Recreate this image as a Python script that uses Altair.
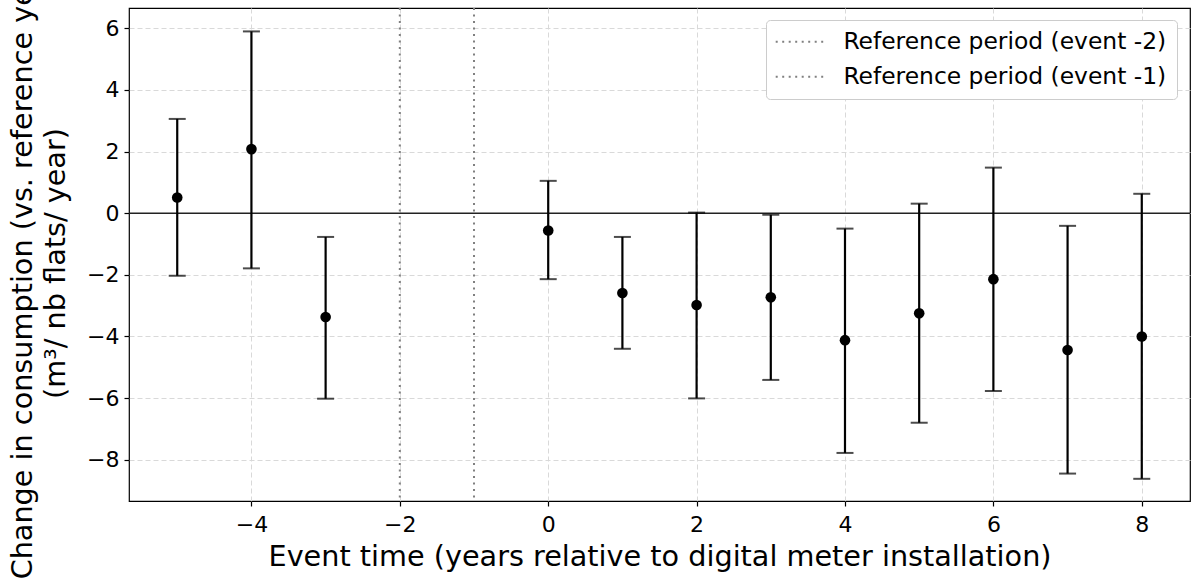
import altair as alt
import pandas as pd

# ---- data ----
event = [-5, -4, -3, 0, 1, 2, 3, 4, 5, 6, 7, 8]
coef = [0.51, 2.08, -3.37, -0.56, -2.59, -2.98, -2.73, -4.12, -3.25, -2.14, -4.44, -4.00]
lower = [-2.03, -1.79, -6.02, -2.14, -4.40, -6.01, -5.41, -7.78, -6.80, -5.77, -8.45, -8.62]
upper = [3.06, 5.90, -0.77, 1.05, -0.77, 0.02, -0.05, -0.50, 0.31, 1.48, -0.41, 0.63]

ref_x = [-2, -1]
ref_labels = ["Reference period (event -2)", "Reference period (event -1)"]

x_ticks = [-4, -2, 0, 2, 4, 6, 8]
y_ticks = [-8, -6, -4, -2, 0, 2, 4, 6]

x_title = "Event time (years relative to digital meter installation)"
y_title = ["Change in consumption (vs. reference year)", "(m³/ nb flats/ year)"]

df = pd.DataFrame({"event": event, "coef": coef, "lower": lower, "upper": upper})
ref_df = pd.DataFrame({"x": ref_x, "label": ref_labels})
zero_df = pd.DataFrame({"y": [0]})

FONT = "DejaVu Sans"
xscale = alt.Scale(domain=[-5.65, 8.65], nice=False, zero=False)
yscale = alt.Scale(domain=[-9.34, 6.66], nice=False, zero=False)
minus = "replace(datum.label, '-', '\u2212')"

xaxis = alt.Axis(values=x_ticks, format="d", title=x_title, labelExpr=minus, labelPadding=8,
                 titleY=64, titleBaseline="alphabetic")
yaxis = alt.Axis(values=y_ticks, format="d", title=y_title, labelExpr=minus, labelPadding=5,
                 titleX=-107, titleY=255, titleBaseline="middle", titleLineHeight=33)

ref = alt.Chart(ref_df).mark_rule(strokeDash=[2, 4.5], strokeWidth=2).encode(
    x=alt.X("x:Q", scale=xscale, axis=xaxis),
    color=alt.Color(
        "label:N",
        scale=alt.Scale(domain=ref_labels, range=["#808080", "#808080"]),
        legend=alt.Legend(
            title=None, orient="none", legendX=637, legendY=12,
            symbolType="M-2,0H6", symbolSize=144, symbolStrokeWidth=2,
            symbolDash=[2, 4.5], labelFontSize=23.4, labelFont=FONT,
            labelColor="black", labelOffset=44, padding=10, rowPadding=10,
            fillColor="white", strokeColor="#cccccc", cornerRadius=4,
            labelLimit=0,
        ),
    ),
)

zero = alt.Chart(zero_df).mark_rule(color="#222222", strokeWidth=1.6).encode(
    y=alt.Y("y:Q", scale=yscale, axis=yaxis)
)

bars = alt.Chart(df).mark_rule(color="black", strokeWidth=2.2).encode(
    x=alt.X("event:Q", scale=xscale),
    y=alt.Y("lower:Q", scale=yscale),
    y2="upper:Q",
)

cap_lo = alt.Chart(df).mark_tick(color="black", orient="horizontal", size=17, thickness=2).encode(
    x=alt.X("event:Q", scale=xscale),
    y=alt.Y("lower:Q", scale=yscale),
)
cap_hi = alt.Chart(df).mark_tick(color="black", orient="horizontal", size=17, thickness=2).encode(
    x=alt.X("event:Q", scale=xscale),
    y=alt.Y("upper:Q", scale=yscale),
)

pts = alt.Chart(df).mark_circle(color="black", opacity=1, size=113).encode(
    x=alt.X("event:Q", scale=xscale),
    y=alt.Y("coef:Q", scale=yscale),
)

chart = alt.layer(ref, zero, bars, cap_lo, cap_hi, pts).properties(
    width=1061,
    height=493,
    autosize=alt.AutoSizeParams(type="none"),
    padding={"left": 129, "top": 8, "right": 2, "bottom": 82},
    background="white",
).configure_view(
    stroke="black", strokeWidth=1.2
).configure_axis(
    labelFont=FONT, labelFontSize=22, labelColor="black",
    titleFont=FONT, titleFontSize=28.7, titleFontWeight="normal", titleColor="black",
    tickColor="black", tickSize=5, tickWidth=1.2,
    gridColor="#d9d9d9", gridDash=[5, 3], gridWidth=1,
    domain=False,
)

chart.save("out.html", embed_options={"renderer": "svg", "actions": False})
